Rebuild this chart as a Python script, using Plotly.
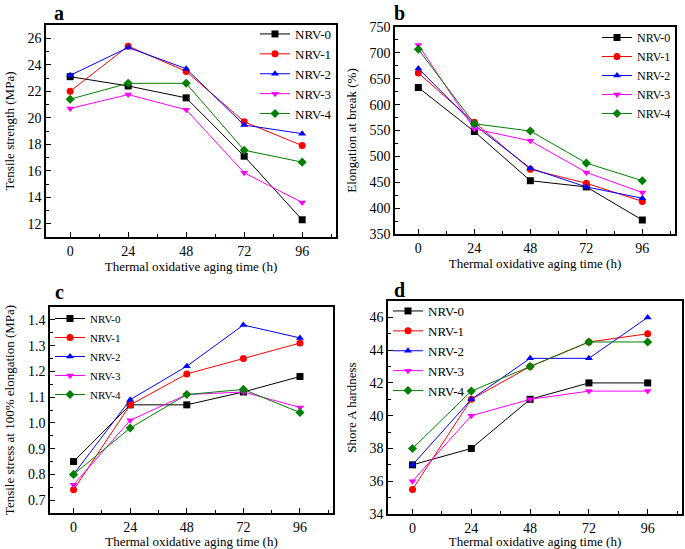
import plotly.graph_objects as go

##############################################################################################################
TIME = [0, 24, 48, 72, 96]
NAMES = ['NRV-0', 'NRV-1', 'NRV-2', 'NRV-3', 'NRV-4']

# a: tensile strength (MPa)
TENSILE = [
    [23.1, 22.4, 21.5, 17.1, 12.3],
    [22.0, 25.4, 23.5, 19.7, 17.9],
    [23.2, 25.3, 23.7, 19.45, 18.8],
    [20.7, 21.75, 20.6, 15.85, 13.6],
    [21.4, 22.6, 22.6, 17.55, 16.65],
]
# b: elongation at break (%)
ELONGATION = [
    [633, 548, 453, 441, 377],
    [661, 566, 475, 448, 413],
    [670, 561, 477, 441, 419],
    [715, 553, 530, 469, 430],
    [707, 563, 549, 487, 453],
]
# c: tensile stress at 100% elongation (MPa)
STRESS100 = [
    [0.85, 1.07, 1.07, 1.12, 1.18],
    [0.74, 1.07, 1.19, 1.25, 1.31],
    [0.80, 1.09, 1.22, 1.38, 1.33],
    [0.76, 1.01, 1.11, 1.12, 1.06],
    [0.80, 0.98, 1.11, 1.13, 1.04],
]
# d: shore A hardness
HARDNESS = [
    [37, 38, 41, 42, 42],
    [35.5, 41, 43, 44.5, 45],
    [37, 41, 43.5, 43.5, 46],
    [36, 40, 41, 41.5, 41.5],
    [38, 41.5, 43, 44.5, 44.5],
]

COLORS = ['black', '#ff0000', '#0000ff', '#ff00ff', '#008000']
SYMBOLS = ['square', 'circle', 'triangle-up', 'triangle-down', 'diamond']
FONT = 'Liberation Serif, Times New Roman, serif'

W, H = 685, 549

def px_x(a, b):
    return [a / W, b / W]

def px_y(top, bottom):
    return [1 - bottom / H, 1 - top / H]

PANELS = [
    # data, ytitle, yrange, dtick, tickformat, xdomain, ydomain, legend pos, legend font size
    (TENSILE, 'Tensile strength (MPa)', [11, 27], 2, 'd', px_x(46, 336), px_y(25, 237),
     dict(x=337 / W, xanchor='right', y=1 - 19 / H), 13),
    (ELONGATION, 'Elongation at break (%)', [350, 750], 50, 'd', px_x(395, 675), px_y(27, 234),
     dict(x=676 / W, xanchor='right', y=1 - 23 / H), 12),
    (STRESS100, 'Tensile stress at 100% elongation (MPa)', [0.65, 1.45], 0.1, '.1f', px_x(50, 333), px_y(307, 513),
     dict(x=50 / W, xanchor='left', y=1 - 304 / H), 11),
    (HARDNESS, 'Shore A hardness', [34, 47], 2, 'd', px_x(388, 682), px_y(301, 514),
     dict(x=388 / W, xanchor='left', y=1 - 296 / H), 13),
]
LABELS = [('a', 59, 13), ('b', 399, 13), ('c', 59, 292), ('d', 399, 290)]

##############################################################################################################
fig = go.Figure()
layout = {}
for p, (data, ytitle, yrange, dtick, tfmt, xdom, ydom, lpos, lsize) in enumerate(PANELS):
    n = '' if p == 0 else str(p + 1)
    legend_name = 'legend' + n
    for i, name in enumerate(NAMES):
        fig.add_trace(go.Scatter(
            x=TIME, y=data[i], name=name,
            mode='lines+markers',
            line=dict(color=COLORS[i], width=1),
            marker=dict(symbol=SYMBOLS[i], color=COLORS[i], size=7),
            xaxis='x' + n, yaxis='y' + n,
            legend=legend_name,
        ))
    axis_common = dict(
        showline=True, linecolor='black', linewidth=1.5, mirror=True,
        showgrid=False, zeroline=False, automargin=False,
        ticks='inside', ticklen=5, tickwidth=1, tickcolor='black',
        tickfont=dict(family=FONT, size=14, color='black'),
    )
    layout['xaxis' + n] = dict(
        axis_common, domain=xdom, anchor='y' + n, range=[-10, 110],
        tickvals=TIME,
        minor=dict(tickvals=[12, 36, 60, 84, 108], ticks='inside', ticklen=3, tickcolor='black'),
        title=dict(text='Thermal oxidative aging time (h)', font=dict(family=FONT, size=13, color='black'),
                   standoff=0),
    )
    layout['yaxis' + n] = dict(
        axis_common, domain=ydom, anchor='x' + n, range=yrange, dtick=dtick, tickformat=tfmt,
        minor=dict(dtick=dtick / 2, ticks='inside', ticklen=3, tickcolor='black'),
        title=dict(text=ytitle, font=dict(family=FONT, size=13, color='black'), standoff=10),
    )
    layout[legend_name] = dict(
        lpos, yanchor='top', bgcolor='rgba(0,0,0,0)', borderwidth=0,
        font=dict(family=FONT, size=lsize, color='black'),
        tracegroupgap=0, itemwidth=30,
    )

annotations = [
    dict(text='<b>%s</b>' % t, x=x / W, y=1 - y / H, xref='paper', yref='paper',
         xanchor='center', yanchor='middle',
         showarrow=False, font=dict(family=FONT, size=20, color='black'))
    for t, x, y in LABELS
]

fig.update_layout(
    width=W, height=H,
    margin=dict(l=0, r=0, t=0, b=0),
    paper_bgcolor='white', plot_bgcolor='white',
    font=dict(family=FONT, color='black'),
    annotations=annotations,
    **layout,
)
fig.write_html('out.html', config={'displayModeBar': False},
               post_script="document.body.style.margin='0';")
